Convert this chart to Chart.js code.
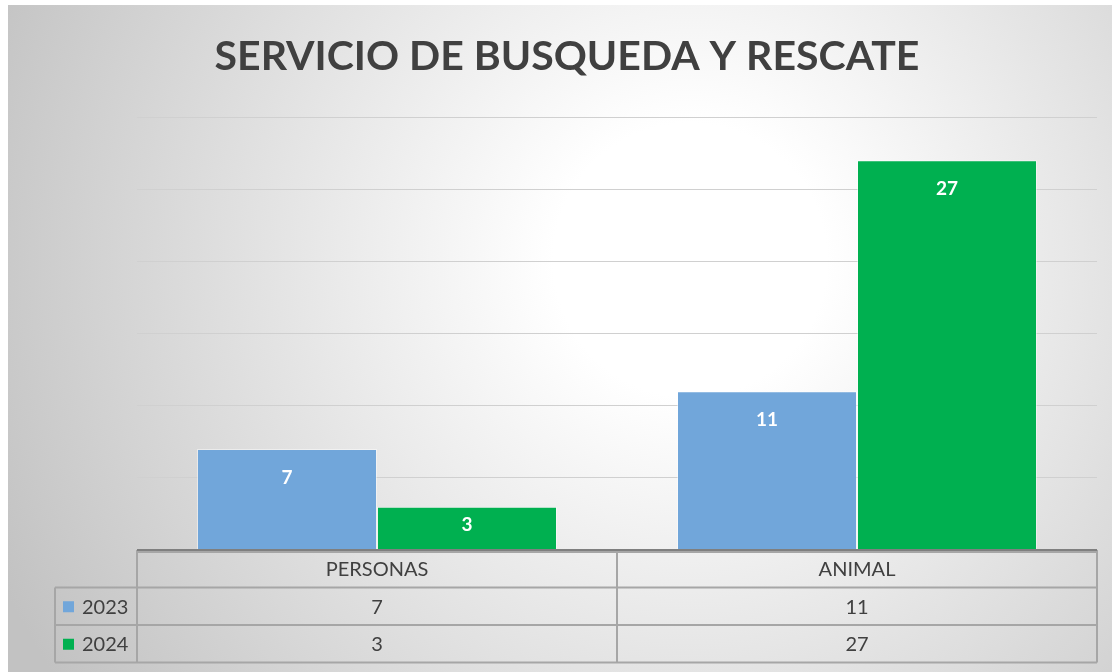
<!DOCTYPE html>
<html><head><meta charset="utf-8">
<script src="https://cdn.jsdelivr.net/npm/chart.js@4/dist/chart.umd.min.js"></script>
<style>html,body{margin:0;padding:0;background:#fff;overflow:hidden}#wrap{width:1112px;height:672px;position:relative}</style>
</head><body><div id="wrap"><canvas id="c" width="1112" height="672"></canvas></div>
<script>
const title = 'SERVICIO DE BUSQUEDA Y RESCATE';
const categories = ['PERSONAS', 'ANIMAL'];
const seriesNames = ['2023', '2024'];
const values2023 = [7, 11];
const values2024 = [3, 27];
const seriesColors = ['#71a6da', '#00b050'];

const bgPlugin = {
  id: 'bg',
  beforeDraw(chart) {
    const ctx = chart.ctx;
    ctx.save();
    ctx.fillStyle = '#ffffff';
    ctx.fillRect(0, 0, 1112, 672);
    const g = ctx.createRadialGradient(690, 260, 0, 690, 260, 760);
    g.addColorStop(0, '#ffffff');
    g.addColorStop(0.18, '#ffffff');
    g.addColorStop(1, '#c2c2c2');
    ctx.fillStyle = g;
    ctx.fillRect(8, 5, 1104, 667);
    // title
    ctx.fillStyle = '#404040';
    ctx.font = 'bold 41px Lato';
    ctx.textAlign = 'center';
    ctx.textBaseline = 'middle';
    ctx.fillText(title, 567, 57);
    ctx.restore();
  },
  afterDatasetsDraw(chart) {
    const ctx = chart.ctx;
    const xs = chart.scales.x;
    const ca = chart.chartArea;
    ctx.save();
    // data labels
    ctx.font = 'bold 19px Lato';
    ctx.fillStyle = '#ffffff';
    ctx.textAlign = 'center';
    ctx.textBaseline = 'middle';
    chart.data.datasets.forEach((ds, di) => {
      chart.getDatasetMeta(di).data.forEach((bar, i) => {
        const top = bar.y, bottom = bar.base;
        const y = Math.min(top + 29, (top + bottom) / 2 - 3);
        ctx.fillText(String(ds.data[i]), bar.x, y);
      });
    });
    // table
    const left = ca.left, right = ca.right, base = ca.bottom;
    const rowH = 37.5;
    const keyLeft = 55;
    const colEdges = [left];
    const half = (xs.getPixelForValue(1) - xs.getPixelForValue(0)) / 2;
    for (let i = 0; i < categories.length; i++) {
      colEdges.push(xs.getPixelForValue(i) + half);
    }
    ctx.strokeStyle = '#a6a6a6';
    ctx.lineWidth = 2;
    ctx.beginPath();
    ctx.moveTo(left, base + 2); ctx.lineTo(right, base + 2);
    for (let r = 1; r <= seriesNames.length; r++) {
      ctx.moveTo(keyLeft, base + r * rowH); ctx.lineTo(right, base + r * rowH);
    }
    const bottomY = base + (seriesNames.length + 1) * rowH;
    ctx.moveTo(keyLeft, bottomY); ctx.lineTo(right, bottomY);
    ctx.moveTo(keyLeft, base + rowH); ctx.lineTo(keyLeft, bottomY);
    colEdges.forEach(x => { ctx.moveTo(x, base); ctx.lineTo(x, bottomY); });
    ctx.stroke();
    ctx.strokeStyle = '#7f7f7f';
    ctx.lineWidth = 2;
    ctx.beginPath();
    ctx.moveTo(left, base); ctx.lineTo(right, base);
    ctx.stroke();
    // text
    ctx.fillStyle = '#404040';
    ctx.font = '20px Lato';
    ctx.textBaseline = 'middle';
    ctx.textAlign = 'center';
    categories.forEach((c, i) => ctx.fillText(c, xs.getPixelForValue(i), base + rowH / 2 + 1));
    const series = [values2023, values2024];
    series.forEach((vals, s) => {
      const cy = base + (s + 1) * rowH + rowH / 2 + 1;
      vals.forEach((v, i) => {
        ctx.textAlign = 'center';
        ctx.fillStyle = '#404040';
        ctx.fillText(String(v), xs.getPixelForValue(i), cy);
      });
      ctx.fillStyle = seriesColors[s];
      ctx.fillRect(63, cy - 6, 11, 11);
      ctx.fillStyle = '#404040';
      ctx.textAlign = 'left';
      ctx.fillText(seriesNames[s], 82, cy);
    });
    ctx.restore();
  }
};

new Chart(document.getElementById('c'), {
  type: 'bar',
  data: {
    labels: categories,
    datasets: [
      { label: seriesNames[0], data: values2023, backgroundColor: seriesColors[0], borderColor: 'rgba(255,255,255,0.45)', borderWidth: 1 },
      { label: seriesNames[1], data: values2024, backgroundColor: seriesColors[1], borderColor: 'rgba(255,255,255,0.45)', borderWidth: 1 }
    ]
  },
  options: {
    responsive: false,
    animation: false,
    events: [],
    layout: { padding: { left: 137, right: 15, top: 117, bottom: 122 } },
    plugins: { legend: { display: false }, title: { display: false }, tooltip: { enabled: false } },
    datasets: { bar: { categoryPercentage: 0.75, barPercentage: 1.0 } },
    scales: {
      x: { display: false },
      y: {
        display: true, min: 0, max: 30,
        ticks: { display: false, stepSize: 5 },
        border: { display: false },
        grid: { drawTicks: false, color: ctx => ctx.tick && ctx.tick.value === 0 ? 'rgba(0,0,0,0)' : '#d0d0d0', lineWidth: 1 }
      }
    }
  },
  plugins: [bgPlugin]
});
</script>
</body></html>
